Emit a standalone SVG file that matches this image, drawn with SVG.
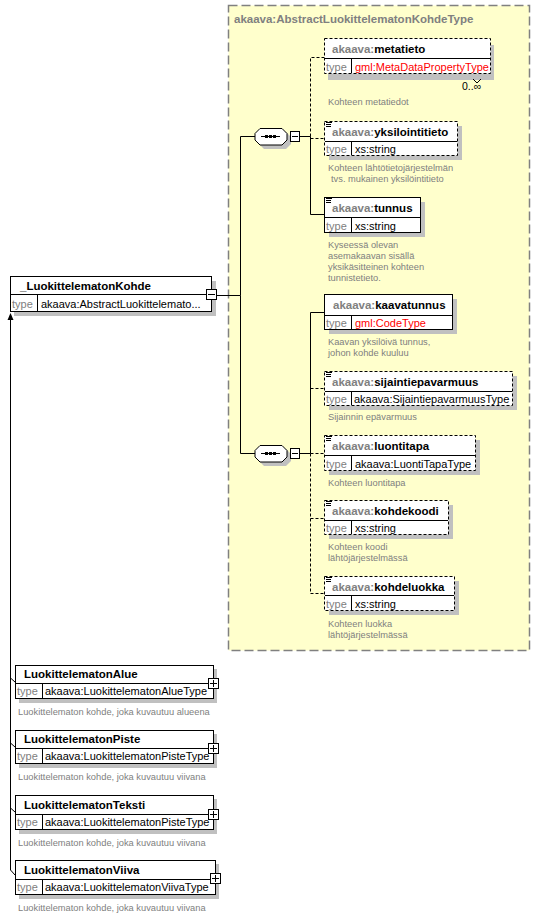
<svg xmlns="http://www.w3.org/2000/svg" width="540" height="917" viewBox="0 0 540 917">
<style>
text{font-family:"Liberation Sans",Arial,sans-serif}
.nm{font-size:11.5px;font-weight:bold;fill:#000}
.px{fill:#808080}
.ty{font-size:11px;fill:#808080}
.tv{font-size:11px;fill:#000}
.red{fill:#ff0000}
.ds{font-size:9.3px;fill:#808080}
.box{fill:#fff;stroke:#000;stroke-width:1}
.dbox{fill:#fff;stroke:#000;stroke-width:1;stroke-dasharray:3,2}
.sh{fill:#c0c0c0}
.ln{fill:none;stroke:#000;stroke-width:1}
.dl{fill:none;stroke:#000;stroke-width:1;stroke-dasharray:3,2}
.ic{fill:none;stroke:#000;stroke-width:1}
</style>
<rect width="540" height="917" fill="#fff"/>
<g id="complexType">
<rect x="228.5" y="5.5" width="301" height="645" fill="#ffffcc" stroke="#808080" stroke-width="1.5" stroke-dasharray="9,4"/>
<text x="234" y="23" class="nm px">akaava:AbstractLuokittelematonKohdeType</text>
</g>
<g id="connectors">
<path class="ln" d="M216,295.5H240.5V136.5H255M240.5,295.5V453.5H255"/>
<path class="ln" d="M287,136.5H290M299,136.5H310.5V214.5H324"/>
<path class="dl" d="M310.5,136.5V57.5H324M310.5,138.5H324"/>
<path class="ln" d="M287,453.5H290M299,453.5H310.5V312.5H324"/>
<path class="dl" d="M310.5,388.5H324M310.5,453.5H324M310.5,453.5V593.5H324M310.5,518.5H324"/>
<path class="ln" d="M10.5,320V870L15,875M10.5,678L15,682M10.5,743L15,747M10.5,808L15,812"/>
<path d="M10.5,313L7.5,320H13.5Z" fill="#000"/>
</g>
<g id="seq1">
<path class="sh" d="M264,132H286L291,137V144L286,149H264L259,144V137Z"/>
<path class="box" d="M260,128.5H282L287,133.5V140L282,145H260L255,140V133.5Z"/>
<path class="ln" d="M261,136.5H280"/>
<rect x="265" y="135" width="3" height="3" fill="#000"/><rect x="269" y="135" width="3" height="3" fill="#000"/><rect x="273" y="135" width="3" height="3" fill="#000"/>
<rect x="290.5" y="131.5" width="9" height="10" class="box"/><path class="ln" d="M292,136.5H298"/>
</g>
<g id="seq2">
<path class="sh" d="M264,449H286L291,454V461L286,466H264L259,461V454Z"/>
<path class="box" d="M260,445.5H282L287,450.5V457L282,462H260L255,457V450.5Z"/>
<path class="ln" d="M261,453.5H280"/>
<rect x="265" y="452" width="3" height="3" fill="#000"/><rect x="269" y="452" width="3" height="3" fill="#000"/><rect x="273" y="452" width="3" height="3" fill="#000"/>
<rect x="290.5" y="448.5" width="9" height="10" class="box"/><path class="ln" d="M292,453.5H298"/>
</g>
<g id="main">
<rect x="14" y="281" width="202" height="35" class="sh"/>
<rect x="10.5" y="276.5" width="201" height="35" class="box"/>
<path class="ln" d="M10.5,294.5H211.5M37.5,294.5V311.5"/>
<text x="20" y="290" class="nm">_LuokittelematonKohde</text>
<text x="12" y="307.5" class="ty">type</text>
<text x="41" y="307.5" class="tv">akaava:AbstractLuokittelemato...</text>
<rect x="206.5" y="289.5" width="10" height="10" class="box"/><path class="ln" d="M208,294.5H215"/>
</g>
<g id="metatieto">
<rect x="328" y="45" width="166" height="35" class="sh"/>
<rect x="324.5" y="38.5" width="166" height="35" class="dbox"/>
<path class="ln" d="M325,58.5H490M351.5,58.5V73"/>
<text x="332" y="53" class="nm"><tspan class="px">akaava:</tspan>metatieto</text>
<text x="326" y="70.5" class="ty">type</text>
<text x="355" y="70.5" class="tv red">gml:MetaDataPropertyType</text>
<path class="ln" d="M473,79L477,83L481,79" stroke="#606060"/>
<text x="462" y="90" style="font-size:10.5px;fill:#000">0..∞</text>
<text x="328" y="105" class="ds">Kohteen metatiedot</text>
</g>
<g id="yksilointitieto">
<rect x="329" y="126" width="133" height="34" class="sh"/>
<rect x="324.5" y="121.5" width="133" height="34" class="dbox"/>
<path class="ln" d="M325,141.5H457M351.5,141.5V155"/>
<path class="ic" d="M326,122.5H332M326,124.5H331M326,126.5H331"/>
<text x="332" y="136" class="nm"><tspan class="px">akaava:</tspan>yksilointitieto</text>
<text x="326" y="152.5" class="ty">type</text>
<text x="355" y="152.5" class="tv">xs:string</text>
<text x="328" y="171" class="ds">Kohteen lähtötietojärjestelmän</text>
<text x="331" y="182" class="ds">tvs. mukainen yksilöintitieto</text>
</g>
<g id="tunnus">
<rect x="329" y="202" width="96" height="35" class="sh"/>
<rect x="324.5" y="197.5" width="96" height="35" class="box"/>
<path class="ln" d="M324.5,217.5H420.5M351.5,217.5V232.5"/>
<path class="ic" d="M326,198.5H332M326,200.5H331M326,202.5H331"/>
<text x="332" y="212" class="nm"><tspan class="px">akaava:</tspan>tunnus</text>
<text x="326" y="229.5" class="ty">type</text>
<text x="355" y="229.5" class="tv">xs:string</text>
<text x="328" y="248" class="ds">Kyseessä olevan</text>
<text x="328" y="259" class="ds">asemakaavan sisällä</text>
<text x="328" y="270" class="ds">yksikäsitteinen kohteen</text>
<text x="328" y="281" class="ds">tunnistetieto.</text>
</g>
<g id="kaavatunnus">
<rect x="329" y="299" width="128" height="35" class="sh"/>
<rect x="324.5" y="294.5" width="128" height="35" class="box"/>
<path class="ln" d="M324.5,315.5H452.5M351.5,315.5V329.5"/>
<text x="333" y="309" class="nm"><tspan class="px">akaava:</tspan>kaavatunnus</text>
<text x="326" y="326.5" class="ty">type</text>
<text x="355" y="326.5" class="tv red">gml:CodeType</text>
<text x="328" y="345" class="ds">Kaavan yksilöivä tunnus,</text>
<text x="328" y="356" class="ds">johon kohde kuuluu</text>
</g>
<g id="sijaintiepavarmuus">
<rect x="329" y="376" width="188" height="34" class="sh"/>
<rect x="324.5" y="371.5" width="188" height="34" class="dbox"/>
<path class="ln" d="M325,391.5H512M351.5,391.5V405"/>
<path class="ic" d="M326,372.5H332M326,374.5H331M326,376.5H331"/>
<text x="332" y="386" class="nm"><tspan class="px">akaava:</tspan>sijaintiepavarmuus</text>
<text x="326" y="402.5" class="ty">type</text>
<text x="354" y="402.5" class="tv">akaava:SijaintiepavarmuusType</text>
<text x="328" y="420" class="ds">Sijainnin epävarmuus</text>
</g>
<g id="luontitapa">
<rect x="329" y="440" width="151" height="35" class="sh"/>
<rect x="324.5" y="435.5" width="151" height="35" class="dbox"/>
<path class="ln" d="M325,455.5H475M351.5,455.5V470"/>
<path class="ic" d="M326,436.5H332M326,438.5H331M326,440.5H331"/>
<text x="332" y="450" class="nm"><tspan class="px">akaava:</tspan>luontitapa</text>
<text x="326" y="467.5" class="ty">type</text>
<text x="355" y="467.5" class="tv">akaava:LuontiTapaType</text>
<text x="328" y="486" class="ds">Kohteen luontitapa</text>
</g>
<g id="kohdekoodi">
<rect x="329" y="505" width="124" height="34" class="sh"/>
<rect x="324.5" y="500.5" width="124" height="34" class="dbox"/>
<path class="ln" d="M325,520.5H448M351.5,520.5V534"/>
<path class="ic" d="M326,501.5H332M326,503.5H331M326,505.5H331"/>
<text x="332" y="515" class="nm"><tspan class="px">akaava:</tspan>kohdekoodi</text>
<text x="326" y="531.5" class="ty">type</text>
<text x="355" y="531.5" class="tv">xs:string</text>
<text x="328" y="550" class="ds">Kohteen koodi</text>
<text x="328" y="561" class="ds">lähtöjärjestelmässä</text>
</g>
<g id="kohdeluokka">
<rect x="329" y="581" width="130" height="34" class="sh"/>
<rect x="324.5" y="576.5" width="130" height="34" class="dbox"/>
<path class="ln" d="M325,595.5H454M351.5,595.5V610"/>
<path class="ic" d="M326,577.5H332M326,579.5H331M326,581.5H331"/>
<text x="332" y="591" class="nm"><tspan class="px">akaava:</tspan>kohdeluokka</text>
<text x="326" y="607.5" class="ty">type</text>
<text x="355" y="607.5" class="tv">xs:string</text>
<text x="328" y="627" class="ds">Kohteen luokka</text>
<text x="328" y="638" class="ds">lähtöjärjestelmässä</text>
</g>
<g id="alue">
<rect x="19" y="669" width="198" height="34" class="sh"/>
<rect x="15.5" y="665.5" width="198" height="33" class="box"/>
<path class="ln" d="M15.5,683.5H213.5M42.5,683.5V698.5"/>
<text x="24" y="678" class="nm">LuokittelematonAlue</text>
<text x="17" y="695" class="ty">type</text>
<text x="45" y="695" class="tv">akaava:LuokittelematonAlueType</text>
<rect x="208.5" y="678.5" width="10" height="10" class="box"/><path class="ln" d="M210,683.5H217M213.5,680V687"/>
<text x="18" y="715" class="ds">Luokittelematon kohde, joka kuvautuu alueena</text>
</g>
<g id="piste">
<rect x="19" y="734" width="198" height="34" class="sh"/>
<rect x="15.5" y="730.5" width="198" height="33" class="box"/>
<path class="ln" d="M15.5,748.5H213.5M42.5,748.5V763.5"/>
<text x="24" y="743" class="nm">LuokittelematonPiste</text>
<text x="17" y="760" class="ty">type</text>
<text x="45" y="760" class="tv">akaava:LuokittelematonPisteType</text>
<rect x="208.5" y="743.5" width="10" height="10" class="box"/><path class="ln" d="M210,748.5H217M213.5,745V752"/>
<text x="18" y="780" class="ds">Luokittelematon kohde, joka kuvautuu viivana</text>
</g>
<g id="teksti">
<rect x="19" y="799" width="198" height="35" class="sh"/>
<rect x="15.5" y="795.5" width="198" height="34" class="box"/>
<path class="ln" d="M15.5,814.5H213.5M42.5,814.5V829.5"/>
<text x="24" y="809" class="nm">LuokittelematonTeksti</text>
<text x="17" y="826" class="ty">type</text>
<text x="45" y="826" class="tv">akaava:LuokittelematonPisteType</text>
<rect x="208.5" y="809.5" width="10" height="10" class="box"/><path class="ln" d="M210,814.5H217M213.5,811V818"/>
<text x="18" y="846" class="ds">Luokittelematon kohde, joka kuvautuu viivana</text>
</g>
<g id="viiva">
<rect x="19" y="864" width="200" height="35" class="sh"/>
<rect x="15.5" y="860.5" width="200" height="34" class="box"/>
<path class="ln" d="M15.5,879.5H215.5M42.5,879.5V894.5"/>
<text x="24" y="874" class="nm">LuokittelematonViiva</text>
<text x="17" y="891" class="ty">type</text>
<text x="45" y="891" class="tv">akaava:LuokittelematonViivaType</text>
<rect x="210.5" y="873.5" width="10" height="10" class="box"/><path class="ln" d="M212,878.5H219M215.5,875V882"/>
<text x="18" y="911" class="ds">Luokittelematon kohde, joka kuvautuu viivana</text>
</g>
</svg>
